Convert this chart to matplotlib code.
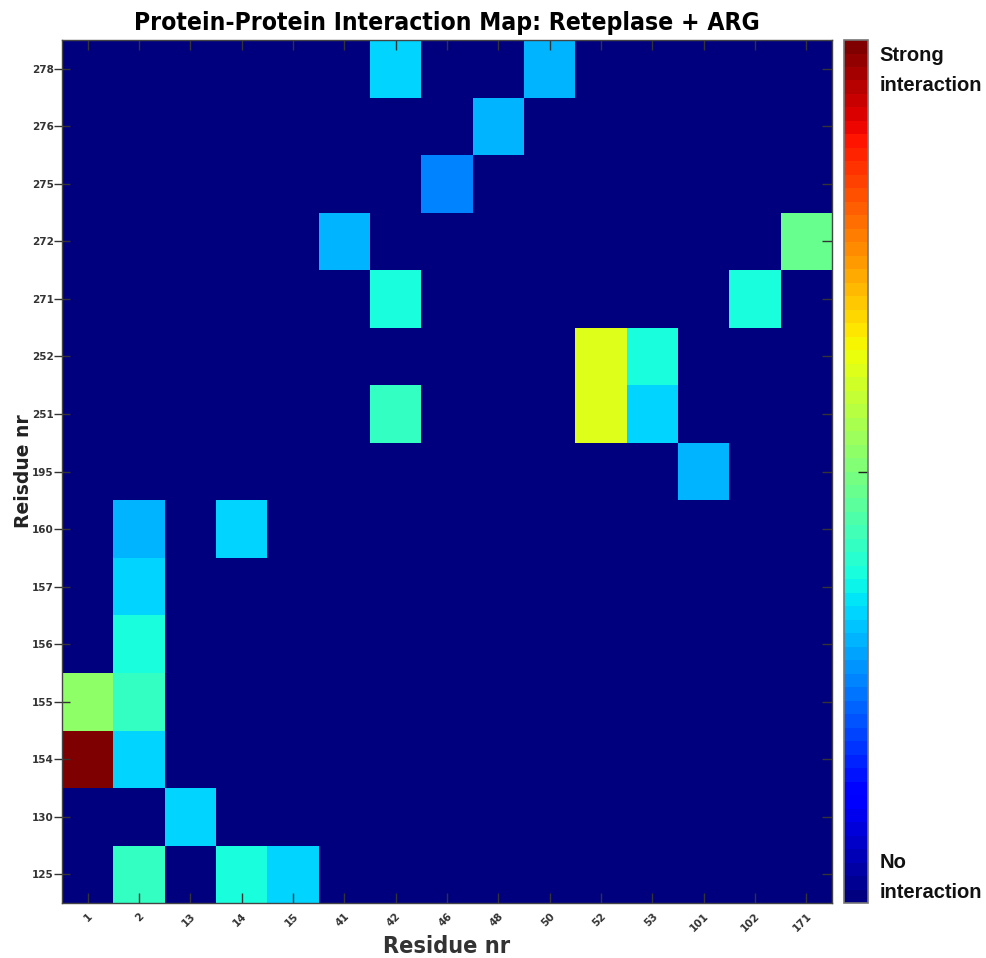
import numpy as np
import matplotlib
matplotlib.use("Agg")
import matplotlib.pyplot as plt

# Residue numbers on each axis
x_residues = ["1", "2", "13", "14", "15", "41", "42", "46", "48", "50",
              "52", "53", "101", "102", "171"]
y_residues = ["125", "130", "154", "155", "156", "157", "160", "195",
              "251", "252", "271", "272", "275", "276", "278"]

# Non-zero contacts: (y residue, x residue, normalised strength)
contact_y = ["278", "278", "276", "275", "272", "272", "271", "271",
             "252", "252", "251", "251", "251", "195", "160", "160",
             "157", "156", "155", "155", "154", "154", "130",
             "125", "125", "125"]
contact_x = ["42", "50", "48", "46", "41", "171", "42", "102",
             "52", "53", "42", "52", "53", "101", "2", "14",
             "2", "2", "1", "2", "1", "2", "13",
             "2", "14", "15"]
contact_strength = [0.34, 0.30, 0.30, 0.26, 0.30, 0.47, 0.375, 0.375,
                    0.61, 0.375, 0.41, 0.61, 0.34, 0.30, 0.30, 0.34,
                    0.34, 0.375, 0.52, 0.41, 1.0, 0.34, 0.34,
                    0.41, 0.375, 0.34]

grid = np.zeros((len(y_residues), len(x_residues)))
for ry, rx, s in zip(contact_y, contact_x, contact_strength):
    grid[y_residues.index(ry), x_residues.index(rx)] = s

fig = plt.figure(figsize=(9.86, 9.58), dpi=100)
ax = fig.add_axes([0.0629, 0.0574, 0.7809, 0.9008])

cmap = plt.get_cmap("jet", 64)
im = ax.imshow(grid, cmap=cmap, vmin=0, vmax=1, origin="lower",
               aspect="auto", interpolation="nearest")

tick_col = "#333333"

ax.set_xticks(range(len(x_residues)))
ax.set_xticklabels(x_residues, rotation=45, ha="right", rotation_mode="anchor",
                   fontsize=7.5, fontweight="bold", color=tick_col)
ax.set_yticks(range(len(y_residues)))
ax.set_yticklabels(y_residues, fontsize=7.5, fontweight="bold", color=tick_col)

ax.tick_params(axis="x", direction="in", length=7, width=1, color=tick_col,
               top=True, bottom=True, pad=6)
ax.tick_params(axis="y", which="major", direction="inout", length=12, width=1,
               color=tick_col, left=True, right=False, pad=0)
# right-hand inward ticks
ax_r = ax.secondary_yaxis("right")
ax_r.set_yticks(range(len(y_residues)))
ax_r.tick_params(direction="in", length=7, width=1, color=tick_col,
                 labelright=False)
ax_r.spines["right"].set_visible(False)

for sp in ax.spines.values():
    sp.set_color("#444444")
    sp.set_linewidth(1.0)

ax.set_title("Protein-Protein Interaction Map: Reteplase + ARG",
             fontsize=17.75, fontweight="bold", fontstretch="condensed", pad=7)
ax.set_xlabel("Residue nr", fontsize=16.8, fontweight="bold",
              fontstretch="condensed", color="#333333", labelpad=1)
ax.set_ylabel("Reisdue nr", fontsize=13.5, fontweight="bold", color="#222222",
              labelpad=-1)

cax = fig.add_axes([0.856, 0.0574, 0.0245, 0.9008])
cb = fig.colorbar(im, cax=cax, ticks=[0.5])
cb.ax.tick_params(direction="in", length=7, width=1, color="#222222",
                  labelright=False)
cb.outline.set_edgecolor("#777777")
cb.outline.set_linewidth(1.2)

fig.text(0.892, 0.952, "Strong\ninteraction", family="Liberation Sans",
         fontsize=14.5, fontweight="bold", va="top", ha="left",
         linespacing=1.75, color="#111111")
fig.text(0.892, 0.058, "No\ninteraction", family="Liberation Sans",
         fontsize=14.5, fontweight="bold", va="bottom", ha="left",
         linespacing=1.75, color="#111111")

fig.savefig("out.png", dpi=100)
